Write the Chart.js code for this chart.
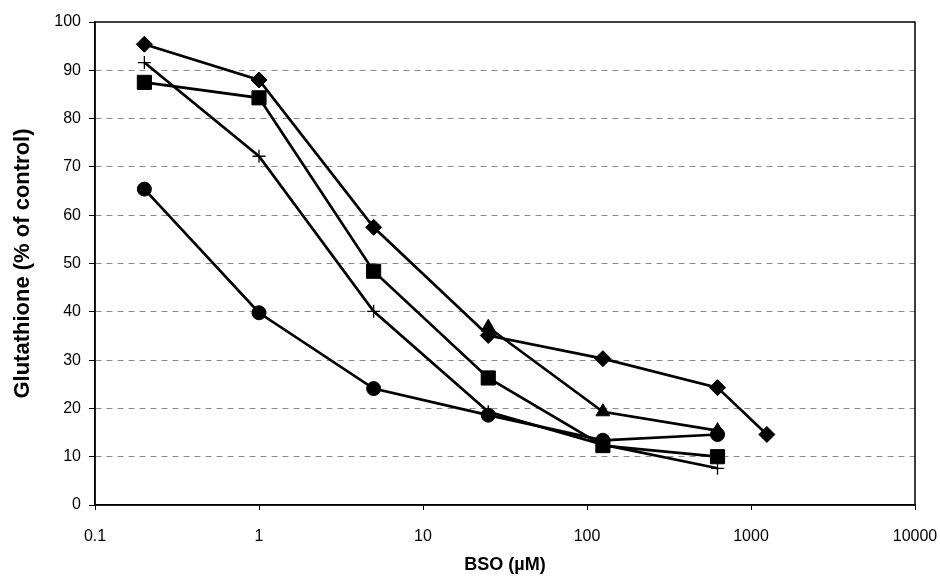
<!DOCTYPE html>
<html>
<head>
<meta charset="utf-8">
<script src="https://cdn.jsdelivr.net/npm/chart.js@4"></script>
<style>
  html, body { margin: 0; padding: 0; background: #fff; }
  #wrap { width: 940px; height: 586px; }
</style>
</head>
<body>
<div id="wrap"><canvas id="gshChart" width="940" height="586"></canvas></div>
<script>
// BSO concentrations (µM) and glutathione levels (% of control)
const doses = [0.2, 1, 5, 25, 125, 625, 1250];
const diamondSeries = [95.4, 88.0, 57.5, 35.1, 30.3, 24.3, 14.6];
const squareSeries = [87.5, 84.3, 48.4, 26.3, 12.3, 10.0];
const crossSeries = [91.6, 72.2, 40.1, 19.3, 12.5, 7.6];
const circleSeries = [65.4, 39.8, 24.1, 18.6, 13.4, 14.6];
const triangleDoses = [25, 125, 625];
const triangleSeries = [36.8, 19.3, 15.4];

const xTickValues = [0.1, 1, 10, 100, 1000, 10000];
const xTickLabels = ['0.1', '1', '10', '100', '1000', '10000'];

function toPoints(xs, ys) {
  return ys.map((y, i) => ({ x: xs[i], y }));
}

const baseFont = "'Liberation Sans', Arial, sans-serif";

// full box round the plot area
const frame = {
  id: 'frame',
  beforeDatasetsDraw(chart) {
    const { ctx, chartArea: a } = chart;
    ctx.save();
    ctx.strokeStyle = '#000';
    ctx.lineWidth = 1.5;
    ctx.strokeRect(a.left, a.top, a.right - a.left, a.bottom - a.top);
    ctx.restore();
  }
};

function series(label, xs, ys, style, radius, bw) {
  return {
    label,
    data: toPoints(xs, ys),
    borderColor: '#000',
    backgroundColor: '#000',
    borderWidth: 2.7,
    pointStyle: style,
    pointRadius: radius,
    pointBorderWidth: bw,
    pointBackgroundColor: '#000',
    pointBorderColor: '#000',
    tension: 0
  };
}

new Chart(document.getElementById('gshChart'), {
  type: 'line',
  data: {
    datasets: [
      series('diamond', doses, diamondSeries, 'rectRot', 8, 1),
      series('square', doses, squareSeries, 'rect', 10, 1),
      series('cross', doses, crossSeries, 'cross', 6.5, 1.3),
      series('circle', doses, circleSeries, 'circle', 7, 1),
      series('triangle', triangleDoses, triangleSeries, 'triangle', 8, 1)
    ]
  },
  plugins: [frame],
  options: {
    responsive: false,
    animation: false,
    layout: { padding: { top: 22, right: 25, left: 0, bottom: 0 } },
    plugins: { legend: { display: false }, tooltip: { enabled: false } },
    scales: {
      x: {
        type: 'logarithmic',
        min: 0.1,
        max: 10000,
        afterBuildTicks: scale => { scale.ticks = xTickValues.map(v => ({ value: v })); },
        afterFit: scale => {
          scale.height = 81;
          scale.paddingLeft = 0;
          scale.paddingRight = 0;
        },
        ticks: {
          autoSkip: false,
          maxRotation: 0,
          padding: 17,
          color: '#000',
          font: { family: baseFont, size: 16 },
          callback: (v, i) => xTickLabels[i]
        },
        grid: { drawOnChartArea: false, drawTicks: true, tickLength: 5, tickColor: '#000', tickWidth: 1 },
        border: { color: '#000', width: 1.5 },
        title: {
          display: true,
          text: 'BSO (µM)',
          color: '#000',
          font: { family: baseFont, size: 18, weight: 'bold' },
          padding: { top: 10, bottom: 10 }
        }
      },
      y: {
        min: 0,
        max: 100,
        afterFit: scale => { scale.width = 95; },
        ticks: {
          stepSize: 10,
          padding: 8,
          color: '#000',
          font: { family: baseFont, size: 16 }
        },
        grid: {
          color: ctx => (ctx.tick && (ctx.tick.value === 0 || ctx.tick.value === 100)) ? 'rgba(0,0,0,0)' : '#8a8a8a',
          lineWidth: 1,
          drawTicks: true,
          tickLength: 6,
          tickColor: '#000',
          tickBorderDash: []
        },
        border: { color: '#000', width: 1.5, dash: [6, 5] },
        title: {
          display: true,
          text: 'Glutathione (% of control)',
          color: '#000',
          font: { family: baseFont, size: 22, weight: 'bold' },
          padding: { top: 10, bottom: 10 }
        }
      }
    }
  }
});
</script>
</body>
</html>
